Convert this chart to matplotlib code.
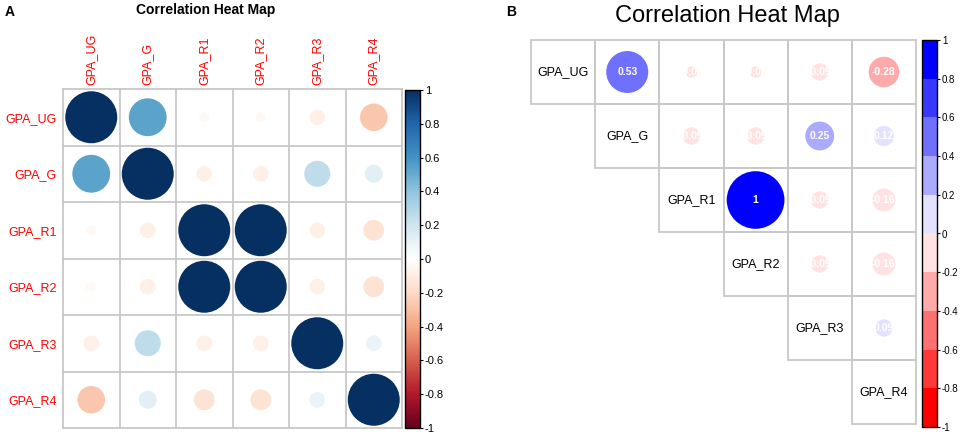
import numpy as np
import matplotlib
matplotlib.use('Agg')
import matplotlib.pyplot as plt
import matplotlib.cm as cm
from matplotlib.patches import Circle, Rectangle
from matplotlib.colors import LinearSegmentedColormap, ListedColormap, BoundaryNorm, Normalize

plt.rcParams['font.family'] = ['Liberation Sans', 'DejaVu Sans']

W, H = 963, 436

labels = ['GPA_UG', 'GPA_G', 'GPA_R1', 'GPA_R2', 'GPA_R3', 'GPA_R4']
# upper triangle of the correlation matrix, row by row
row_ug = [0.53, -0.04, -0.04, -0.09, -0.28]
row_g = [-0.09, -0.09, 0.25, 0.12]
row_r1 = [1.00, -0.09, -0.16]
row_r2 = [-0.09, -0.16]
row_r3 = [0.09]
cbar_ticks = [-1, -0.8, -0.6, -0.4, -0.2, 0, 0.2, 0.4, 0.6, 0.8, 1]

n = len(labels)
corr = np.eye(n)
for i, row in enumerate([row_ug, row_g, row_r1, row_r2, row_r3]):
    corr[i, i + 1:] = row
    corr[i + 1:, i] = row


def box(l, t, r, b):
    # pixel box -> figure fraction
    return [l / W, 1 - b / H, (r - l) / W, (b - t) / H]


def tick_text(t):
    return '%g' % (round(t, 1) + 0.0)


grid_col = '#c8c8c8'
fig = plt.figure(figsize=(W / 100, H / 100), dpi=100)

# ---------------- panel A ----------------
cmap_a = LinearSegmentedColormap.from_list(
    'rdbu', ["#67001F", "#B2182B", "#D6604D", "#F4A582", "#FDDBC7", "#FFFFFF",
             "#D1E5F0", "#92C5DE", "#4393C3", "#2166AC", "#053061"], N=200)
norm_a = Normalize(-1, 1)

axA = fig.add_axes(box(63, 89, 402, 428))
for i in range(n):
    for j in range(n):
        v = corr[i, j]
        axA.add_patch(Circle((j, i), 0.46 * np.sqrt(abs(v)),
                             facecolor=cmap_a(norm_a(v)), edgecolor='none'))
for k in range(n + 1):
    axA.axhline(k - 0.5, color=grid_col, lw=1.3, clip_on=False, zorder=0)
    axA.axvline(k - 0.5, color=grid_col, lw=1.3, clip_on=False, zorder=0)
axA.set_xlim(-0.5, n - 0.5)
axA.set_ylim(n - 0.5, -0.5)
axA.xaxis.tick_top()
axA.set_xticks(range(n))
axA.set_xticklabels(labels, rotation=90, color='red', fontsize=9)
axA.set_yticks(range(n))
axA.set_yticklabels(labels, color='red', fontsize=9)
axA.tick_params(axis='x', length=0, pad=3)
axA.tick_params(axis='y', length=0, pad=4.5)
for s in axA.spines.values():
    s.set_visible(False)

caxA = fig.add_axes(box(405, 90, 420, 428))
cbA = fig.colorbar(cm.ScalarMappable(norm=norm_a, cmap=cmap_a), cax=caxA, ticks=cbar_ticks)
cbA.ax.set_yticklabels([tick_text(t) for t in cbar_ticks])
cbA.ax.tick_params(labelsize=8, length=2.5, width=0.8, pad=1)
cbA.outline.set_linewidth(1)

fig.text(206 / W, 1 - 10 / H, 'Correlation Heat Map', fontsize=10, fontweight='bold',
         ha='center', va='center')
fig.text(10 / W, 1 - 12 / H, 'A', fontsize=10, fontweight='bold', ha='center', va='center')

# ---------------- panel B ----------------
ramp = LinearSegmentedColormap.from_list('rwb', ['red', 'white', 'blue'])
cmap_b = ListedColormap([ramp(x) for x in np.linspace(0, 1, 10)])
norm_b = BoundaryNorm(cbar_ticks, ncolors=10, clip=True)

axB = fig.add_axes(box(531, 40, 916, 424))
for i in range(n):
    for j in range(i, n):
        axB.add_patch(Rectangle((j - 0.5, i - 0.5), 1, 1, fill=False,
                                edgecolor=grid_col, lw=1.3, clip_on=False))
        if i == j:
            axB.text(j, i, labels[i], ha='center', va='center', fontsize=9, color='black')
        else:
            v = corr[i, j]
            axB.add_patch(Circle((j, i), 0.45 * np.sqrt(abs(v)),
                                 facecolor=cmap_b(norm_b(v)), edgecolor='none'))
            axB.text(j, i, '%g' % round(v, 2), ha='center', va='center',
                     fontsize=7.5, fontweight='bold', color='white')
axB.set_xlim(-0.5, n - 0.5)
axB.set_ylim(n - 0.5, -0.5)
axB.axis('off')

caxB = fig.add_axes(box(922, 40, 937, 427))
cbB = fig.colorbar(cm.ScalarMappable(norm=norm_b, cmap=cmap_b), cax=caxB, ticks=cbar_ticks)
cbB.ax.set_yticklabels([tick_text(t) for t in cbar_ticks])
cbB.ax.tick_params(labelsize=7, length=2.5, width=0.8, pad=1)
cbB.outline.set_linewidth(1)

fig.text(727 / W, 1 - 16 / H, 'Correlation Heat Map', fontsize=17, ha='center', va='center')
fig.text(511 / W, 1 - 12 / H, 'B', fontsize=10, fontweight='bold', ha='center', va='center')

fig.savefig('out.png', dpi=100, facecolor='white')
